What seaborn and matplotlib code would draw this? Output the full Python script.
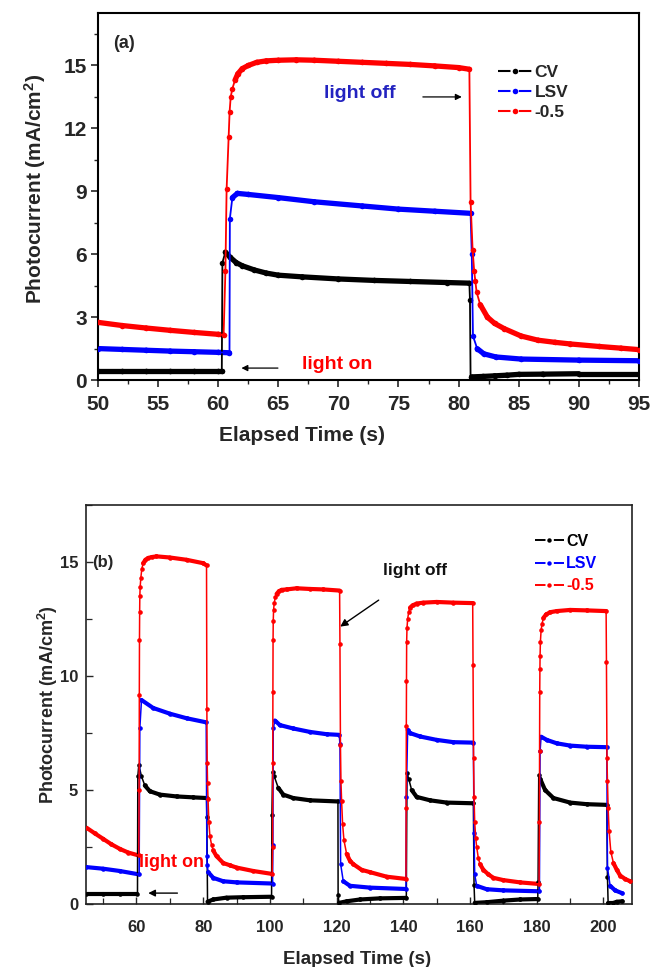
import numpy as np
import pandas as pd
import seaborn as sns
import matplotlib
matplotlib.use("Agg")
import matplotlib.pyplot as plt
from matplotlib.collections import LineCollection
from matplotlib.lines import Line2D
from matplotlib.ticker import MultipleLocator

# ---------------- data: panel (a) ----------------
cv_a_t = [50, 52, 54, 56, 58, 60, 60.3, 60.35, 60.6, 61, 61.5, 62, 63, 64, 65, 67, 70, 73, 76, 79, 80.9,
          80.95, 81.0, 81.1, 82, 83, 84, 85, 87, 90, 95]
cv_a_y = [0.45, 0.45, 0.45, 0.45, 0.45, 0.45, 0.45, 5.6, 6.1, 5.85, 5.6, 5.45, 5.25, 5.1, 5.0, 4.92, 4.82, 4.75, 4.7, 4.65, 4.62,
          3.8, 0.15, 0.15, 0.17, 0.2, 0.23, 0.27, 0.28, 0.3, 0.3]

lsv_a_t = [50, 52, 54, 56, 58, 60, 60.94, 60.97, 61.18, 61.6, 62.5, 65, 68, 72, 75, 78, 81.0,
           81.1, 81.2, 81.55, 82.1, 83.1, 85.2, 90, 95]
lsv_a_y = [1.5, 1.46, 1.42, 1.38, 1.35, 1.32, 1.3, 7.7, 8.7, 8.9, 8.85, 8.7, 8.5, 8.3, 8.15, 8.05, 7.95,
           6.0, 2.1, 1.5, 1.25, 1.1, 1.0, 0.95, 0.92]

m05_a_t = [50, 52, 54, 56, 58, 60, 60.45, 60.6, 60.7, 60.87, 60.95, 61.04, 61.18, 61.4, 61.63, 62.0, 62.5, 63.2,
           64, 65, 66.5, 68, 70, 72, 74, 76, 78, 80, 80.9, 81.0, 81.17, 81.3, 81.4, 81.5, 81.8, 82.4, 83.0,
           83.8, 85.2, 86.6, 88, 89.3, 91.7, 93.5, 95]
m05_a_y = [2.75, 2.6, 2.48, 2.37, 2.27, 2.18, 2.15, 5.2, 9.1, 11.6, 12.8, 13.5, 13.9, 14.3, 14.6, 14.85, 15.0, 15.15,
           15.22, 15.25, 15.27, 15.25, 15.2, 15.15, 15.1, 15.05, 14.98, 14.9, 14.82, 8.5, 6.2, 5.2, 4.7, 4.2, 3.6, 3.0, 2.7,
           2.45, 2.1, 1.9, 1.8, 1.72, 1.6, 1.52, 1.45]

# ---------------- data: panel (b) ----------------
cv_b_t = [45, 50, 55, 60.3, 60.4, 60.7, 61.5, 62.5, 64, 67, 72, 77, 81.0, 81.1, 81.3, 83, 87, 92, 100.5,
          100.6, 100.8, 101.3, 102.5, 104, 107, 112, 120.4, 120.45, 120.7, 123, 127, 133, 140.9,
          141.1, 141.6, 142.5, 144, 148, 153, 161.0, 161.2, 161.4, 165, 170, 175, 180.3,
          180.4, 180.6, 181, 182.5, 185, 190, 195, 201.0, 201.2, 201.4, 203, 204, 205.7]
cv_b_y = [0.45, 0.45, 0.45, 0.45, 5.6, 6.1, 5.6, 5.2, 4.95, 4.8, 4.72, 4.68, 4.65, 3.8, 0.1, 0.2, 0.28, 0.3, 0.32,
          3.9, 5.8, 5.6, 5.1, 4.8, 4.65, 4.55, 4.5, 0.4, 0.05, 0.12, 0.2, 0.25, 0.27,
          5.75, 5.5, 5.0, 4.7, 4.55, 4.45, 4.42, 0.85, 0.05, 0.08, 0.15, 0.2, 0.22,
          0.95, 5.65, 5.5, 5.0, 4.65, 4.45, 4.38, 4.35, 1.2, 0.05, 0.05, 0.1, 0.12]

lsv_b_t = [45, 50, 55, 60.8, 61.0, 61.5, 65, 70, 75, 80.9, 81.1, 81.2, 81.5, 83, 86, 90, 100.8,
           100.9, 101.0, 101.5, 103, 107, 112, 117, 120.8, 121.0, 121.2, 122, 124, 130, 140.8,
           140.9, 141.3, 142, 145, 150, 155, 161.0, 161.2, 161.4, 162, 165, 170, 180.8,
           181.0, 181.3, 183, 186, 190, 195, 201.0, 201.2, 202, 203.5, 205.7]
lsv_b_y = [1.62, 1.55, 1.45, 1.3, 7.7, 8.95, 8.6, 8.35, 8.15, 7.97, 2.1, 1.7, 1.4, 1.15, 1.0, 0.95, 0.9,
           2.6, 7.7, 8.05, 7.85, 7.7, 7.55, 7.45, 7.42, 7.0, 1.76, 1.0, 0.8, 0.72, 0.66,
           4.7, 7.64, 7.5, 7.35, 7.2, 7.1, 7.08, 3.1, 1.3, 0.8, 0.65, 0.6, 0.56,
           6.7, 7.34, 7.2, 7.05, 6.95, 6.9, 6.88, 1.6, 0.8, 0.6, 0.47]

m05_b_t = [45, 47.5, 50, 52.5, 55, 57.5, 60.7, 60.8, 60.85, 60.9, 60.95, 61.0, 61.1, 61.3, 61.6, 62, 62.7, 63.5, 64.6,
           66, 70, 75, 80, 81.0, 81.1, 81.2, 81.3, 81.45, 81.7, 82, 82.5, 83, 84, 86, 88, 90, 95, 100.7,
           100.8, 100.85, 100.9, 100.95, 101.0, 101.1, 101.3, 101.6, 102, 102.7, 103.5, 105, 108, 112, 116, 120.9,
           121.0, 121.15, 121.3, 121.5, 121.8, 122.2, 123, 124, 125, 127.5, 130, 135, 140.8,
           140.85, 140.9, 140.95, 141.0, 141.1, 141.3, 141.6, 142, 142.8, 144, 146, 150, 155, 160.8,
           160.9, 161.05, 161.2, 161.4, 161.7, 162, 162.5, 163, 164, 165.5, 167, 170, 175, 180.7,
           180.8, 180.85, 180.9, 180.95, 181.0, 181.1, 181.3, 181.6, 182, 182.8, 184, 186, 190, 195, 200.8,
           200.9, 201.05, 201.2, 201.4, 201.7, 202.2, 203, 204, 205, 206.5, 208, 210]
m05_b_y = [3.35, 3.1, 2.86, 2.62, 2.42, 2.26, 2.13, 5.0, 9.18, 11.6, 12.8, 13.5, 13.9, 14.3, 14.7, 14.95, 15.1, 15.18, 15.22,
           15.25, 15.2, 15.1, 14.95, 14.85, 8.57, 6.2, 5.3, 4.6, 3.6, 3.0, 2.6, 2.35, 2.1, 1.8, 1.7, 1.6, 1.45, 1.32,
           2.5, 6.2, 9.3, 11.6, 12.4, 12.9, 13.2, 13.45, 13.6, 13.72, 13.78, 13.8, 13.85, 13.82, 13.8, 13.75,
           11.4, 6.97, 5.4, 4.5, 3.5, 2.8, 2.2, 1.9, 1.75, 1.5, 1.4, 1.2, 1.1,
           4.2, 7.8, 9.8, 11.5, 12.1, 12.5, 12.8, 13.0, 13.1, 13.18, 13.22, 13.25, 13.22, 13.2,
           10.5, 6.4, 4.7, 3.6, 2.9, 2.5, 2.0, 1.75, 1.5, 1.3, 1.15, 1.05, 0.95, 0.88,
           3.6, 6.7, 9.3, 10.3, 10.9, 11.5, 12.0, 12.3, 12.55, 12.7, 12.8, 12.85, 12.9, 12.88, 12.85,
           10.6, 6.4, 5.4, 4.2, 3.2, 2.3, 1.8, 1.5, 1.25, 1.1, 1.0, 0.9]

series_names = ["CV", "LSV", "-0.5"]
series_colors = ["#000000", "#0000ff", "#ff0000"]

# ---------------- style ----------------
sns.set_theme(style="ticks")
plt.rcParams["font.family"] = ["Liberation Sans", "DejaVu Sans"]
plt.rcParams["font.weight"] = "bold"
plt.rcParams["mathtext.fontset"] = "custom"
plt.rcParams["mathtext.rm"] = "Liberation Sans:bold"
plt.rcParams["mathtext.bf"] = "Liberation Sans:bold"
plt.rcParams["mathtext.default"] = "bf"

fig = plt.figure(figsize=(6.5, 9.67), dpi=100)
ax_a = fig.add_axes([0.1508, 0.607, 0.832, 0.3795])
ax_b = fig.add_axes([0.133, 0.0651, 0.839, 0.4126])


def draw(ax, t, y, color, lw_band, lw_thin, ms):
    t = np.asarray(t, float)
    y = np.asarray(y, float)
    pts = ax.transData.transform(np.column_stack([t, y]))
    d = np.diff(pts, axis=0)
    steep = np.abs(d[:, 1]) > 2.5 * np.abs(d[:, 0])
    segs = np.stack([np.column_stack([t[:-1], y[:-1]]),
                     np.column_stack([t[1:], y[1:]])], axis=1)
    lc = LineCollection(segs[~steep], colors=color, linewidths=lw_band,
                        capstyle="round", joinstyle="round", zorder=2)
    ax.add_collection(lc)
    df = pd.DataFrame({"t": t, "y": y})
    sns.lineplot(data=df, x="t", y="y", ax=ax, color=color, lw=lw_thin,
                 marker="o", markersize=ms, markeredgewidth=0,
                 sort=False, estimator=None, zorder=3)


# ---------------- panel (a) ----------------
ax_a.set_xlim(50, 95)
ax_a.set_ylim(0, 17.5)
for (t, y), c in zip([(cv_a_t, cv_a_y), (lsv_a_t, lsv_a_y), (m05_a_t, m05_a_y)], series_colors):
    draw(ax_a, t, y, c, 3.8, 1.3, 4.0)

ax_a.xaxis.set_major_locator(MultipleLocator(5))
ax_a.xaxis.set_minor_locator(MultipleLocator(2.5))
ax_a.yaxis.set_major_locator(MultipleLocator(3))
ax_a.yaxis.set_minor_locator(MultipleLocator(1.5))
ax_a.tick_params(axis="both", which="major", direction="out", length=5, width=1.2,
                 labelsize=15)
ax_a.tick_params(axis="x", which="major", pad=6)
ax_a.tick_params(axis="y", which="major", pad=3)
ax_a.tick_params(axis="both", which="minor", direction="out", length=3, width=1.0)
for lab in ax_a.get_xticklabels() + ax_a.get_yticklabels():
    lab.set_fontweight("bold")
for s in ax_a.spines.values():
    s.set_visible(True)
    s.set_linewidth(1.5)
    s.set_color("black")
ax_a.set_xlabel("Elapsed Time (s)", fontsize=15, fontweight="bold", va="center")
ax_a.xaxis.set_label_coords(0.377, -0.150)
ax_a.set_ylabel(r"Photocurrent (mA/cm$^{2}$)", fontsize=15, fontweight="bold", va="center")
ax_a.yaxis.set_label_coords(-0.116, 0.52)

ax_a.text(0.048, 0.918, "(a)", transform=ax_a.transAxes, fontsize=13, fontweight="bold",
          ha="center", va="center")
ax_a.text(71.8, 13.67, "light off", color="#2323c0", fontsize=14, fontweight="bold",
          ha="center", va="center")
ax_a.annotate("", xy=(80.5, 13.5), xytext=(76.8, 13.5),
              arrowprops=dict(arrowstyle="-|>", color="black", lw=0.9, mutation_scale=9))
ax_a.text(69.9, 0.76, "light on", color="#ff0000", fontsize=14, fontweight="bold",
          ha="center", va="center")
ax_a.annotate("", xy=(61.7, 0.57), xytext=(65.2, 0.57),
              arrowprops=dict(arrowstyle="-|>", color="black", lw=0.9, mutation_scale=9))

handles = [Line2D([], [], color=c, lw=1.5, dashes=(6, 4), marker="o", markersize=4,
                  markeredgewidth=0) for c in series_colors]
leg_a = ax_a.legend(handles, series_names, loc="upper left", bbox_to_anchor=(0.734, 0.867),
                    frameon=False, fontsize=12.5, handlelength=1.92, handletextpad=0.15,
                    labelspacing=0.27, borderpad=0.2, borderaxespad=0)
for txt in leg_a.get_texts():
    txt.set_fontweight("bold")

# ---------------- panel (b) ----------------
ax_b.set_xlim(45, 208.5)
ax_b.set_ylim(0, 17.5)
for (t, y), c in zip([(cv_b_t, cv_b_y), (lsv_b_t, lsv_b_y), (m05_b_t, m05_b_y)], series_colors):
    draw(ax_b, t, y, c, 3.0, 1.1, 3.3)

ax_b.set_xticks([60, 80, 100, 120, 140, 160, 180, 200])
ax_b.xaxis.set_minor_locator(MultipleLocator(10))
ax_b.yaxis.set_major_locator(MultipleLocator(5))
ax_b.yaxis.set_minor_locator(MultipleLocator(2.5))
ax_b.tick_params(axis="both", which="major", direction="in", length=5, width=1.0,
                 labelsize=12)
ax_b.tick_params(axis="x", which="major", pad=11.5)
ax_b.tick_params(axis="y", which="major", pad=6)
ax_b.tick_params(axis="both", which="minor", direction="in", length=4.5, width=0.9)
for lab in ax_b.get_xticklabels() + ax_b.get_yticklabels():
    lab.set_fontweight("bold")
for s in ax_b.spines.values():
    s.set_visible(True)
    s.set_linewidth(1.2)
    s.set_color("#222222")
ax_b.set_xlabel("Elapsed Time (s)", fontsize=13.5, fontweight="bold", va="center")
ax_b.xaxis.set_label_coords(0.497, -0.138)
ax_b.set_ylabel(r"Photocurrent (mA/cm$^{2}$)", fontsize=13, fontweight="bold", va="center")
ax_b.yaxis.set_label_coords(-0.071, 0.5)

ax_b.text(0.011, 0.857, "(b)", transform=ax_b.transAxes, fontsize=12, fontweight="bold",
          ha="left", va="center")
ax_b.text(143.5, 14.65, "light off", color="#111111", fontsize=12.5, fontweight="bold",
          ha="center", va="center")
ax_b.annotate("", xy=(120.4, 12.1), xytext=(133.3, 13.4),
              arrowprops=dict(arrowstyle="-|>", color="black", lw=1.0, mutation_scale=11))
ax_b.text(70.4, 1.84, "light on", color="#ff0000", fontsize=13, fontweight="bold",
          ha="center", va="center")
ax_b.annotate("", xy=(62.7, 0.48), xytext=(73.1, 0.48),
              arrowprops=dict(arrowstyle="-|>", color="black", lw=1.0, mutation_scale=10))

handles_b = [Line2D([], [], color=c, lw=1.4, dashes=(5.4, 4.3), marker="o", markersize=3.2,
                    markeredgewidth=0) for c in series_colors]
leg_b = ax_b.legend(handles_b, series_names, loc="upper left", bbox_to_anchor=(0.816, 0.936),
                    frameon=False, fontsize=11.5, handlelength=1.83, handletextpad=0.15,
                    labelspacing=0.46, borderpad=0.2, borderaxespad=0)
for txt, c in zip(leg_b.get_texts(), series_colors):
    txt.set_fontweight("bold")
    txt.set_color(c)

fig.savefig("out.png", dpi=100)
